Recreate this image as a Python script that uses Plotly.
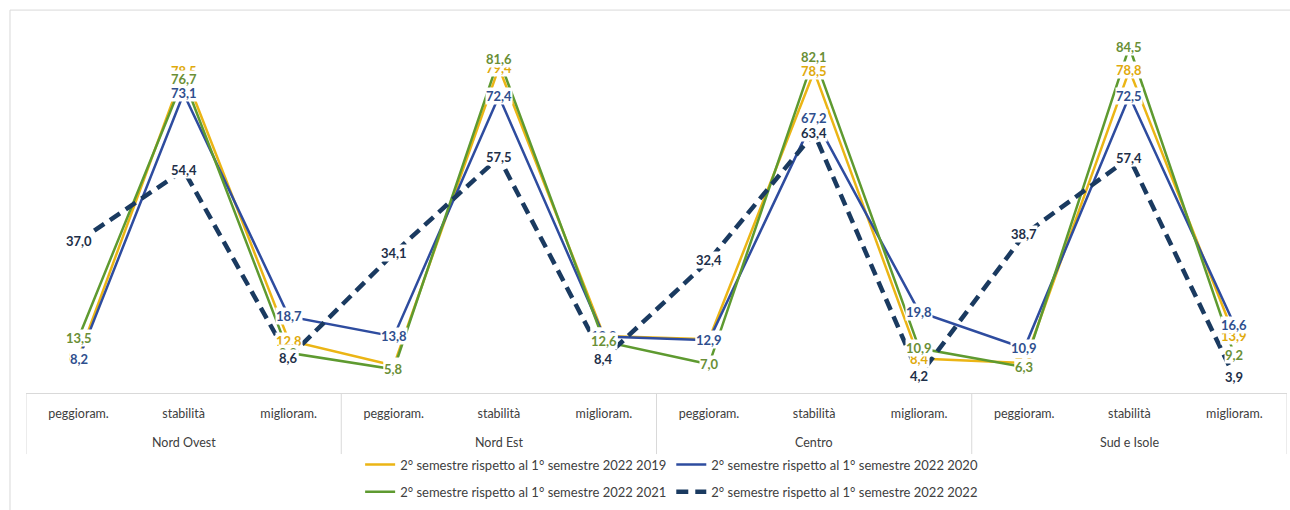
import plotly.graph_objects as go

# Categories: three outcomes inside each macro-region
categories = ["peggioram.", "stabilità", "miglioram."]
regions = ["Nord Ovest", "Nord Est", "Centro", "Sud e Isole"]

# Percentages per series (order: region by region, outcome by outcome)
v2019 = [8.7, 78.5, 12.8, 6.7, 79.4, 13.9, 13.1, 78.5, 8.4, 7.3, 78.8, 13.9]
v2020 = [8.2, 73.1, 18.7, 13.8, 72.4, 13.8, 12.9, 67.2, 19.8, 10.9, 72.5, 16.6]
v2021 = [13.5, 76.7, 9.8, 5.8, 81.6, 12.6, 7.0, 82.1, 10.9, 6.3, 84.5, 9.2]
v2022 = [37.0, 54.4, 8.6, 34.1, 57.5, 8.4, 32.4, 63.4, 4.2, 38.7, 57.4, 3.9]

series_names = [
    "2° semestre rispetto al 1° semestre 2022 2019",
    "2° semestre rispetto al 1° semestre 2022 2020",
    "2° semestre rispetto al 1° semestre 2022 2021",
    "2° semestre rispetto al 1° semestre 2022 2022",
]

FONT = "Lato, 'Open Sans', sans-serif"

n_cat = len(categories)
xs = list(range(n_cat * len(regions)))
tick_text = [c for _ in regions for c in categories]

styles = [
    dict(values=v2019, line=dict(color="#EBB515", width=2.5), label="#E0AA0C", legend="legend"),
    dict(values=v2020, line=dict(color="#2E4C9F", width=2.5), label="#2F4F8E", legend="legend"),
    dict(values=v2021, line=dict(color="#5E9A30", width=2.5), label="#6A8F36", legend="legend2"),
    dict(values=v2022, line=dict(color="#1A3A60", width=4.5, dash="12px,7px"), label="#1E2F48", legend="legend2"),
]

fig = go.Figure()
annotations = []
for name, st in zip(series_names, styles):
    fig.add_trace(go.Scatter(
        x=xs, y=st["values"], mode="lines", name=name,
        line=st["line"], legend=st["legend"], hoverinfo="skip",
    ))

# Data labels sit centred on each point with a white box behind them
for st in styles:
    for x, v in zip(xs, st["values"]):
        annotations.append(dict(
            x=x, y=v, xref="x", yref="y",
            text=f"{v:.1f}".replace(".", ","),
            showarrow=False, bgcolor="white", borderpad=0,
            font=dict(family=FONT, size=13, color=st["label"], weight="bold"),
            xanchor="center", yanchor="middle",
        ))

# Region names under the middle outcome of each group
for i, reg in enumerate(regions):
    annotations.append(dict(
        x=i * n_cat + (n_cat - 1) / 2, y=-0.132, xref="x", yref="paper",
        text=reg, showarrow=False, xanchor="center", yanchor="middle",
        font=dict(family=FONT, size=12.5, color="#404040"),
    ))

shapes = []
# Group dividers below the category axis
for i in range(len(regions) + 1):
    xb = i * n_cat - 0.5
    shapes.append(dict(
        type="line", xref="x", yref="paper", x0=xb, x1=xb, y0=0, y1=-0.162,
        line=dict(color="#D9D9D9", width=1),
    ))
# Chart-area frame
shapes.append(dict(
    type="line", xref="paper", yref="paper", x0=-0.0127, x1=1.01, y0=1.0157, y1=1.0157,
    line=dict(color="#D9D9D9", width=1),
))
shapes.append(dict(
    type="line", xref="paper", yref="paper", x0=-0.0127, x1=-0.0127, y0=1.0157, y1=-0.35,
    line=dict(color="#D9D9D9", width=1),
))

legend_common = dict(
    orientation="h", xanchor="center", x=0.512, yanchor="middle",
    font=dict(family=FONT, size=13, color="#404040"),
    bgcolor="rgba(0,0,0,0)", itemwidth=30, tracegroupgap=0,
)

fig.update_layout(
    width=1290, height=510,
    margin=dict(l=26, r=3, t=16, b=112),
    paper_bgcolor="white", plot_bgcolor="white",
    showlegend=True,
    legend=dict(y=-0.19, **legend_common),
    legend2=dict(y=-0.262, **legend_common),
    xaxis=dict(
        range=[-0.5, len(xs) - 0.5], tickmode="array", tickvals=xs, ticktext=tick_text,
        showgrid=False, zeroline=False, showline=True, linecolor="#D9D9D9", linewidth=1,
        ticks="", ticklabelstandoff=9,
        tickfont=dict(family=FONT, size=12.5, color="#404040"),
    ),
    yaxis=dict(range=[0, 92], visible=False, showgrid=False, zeroline=False),
    annotations=annotations,
    shapes=shapes,
)

fig.write_html("out.html")
